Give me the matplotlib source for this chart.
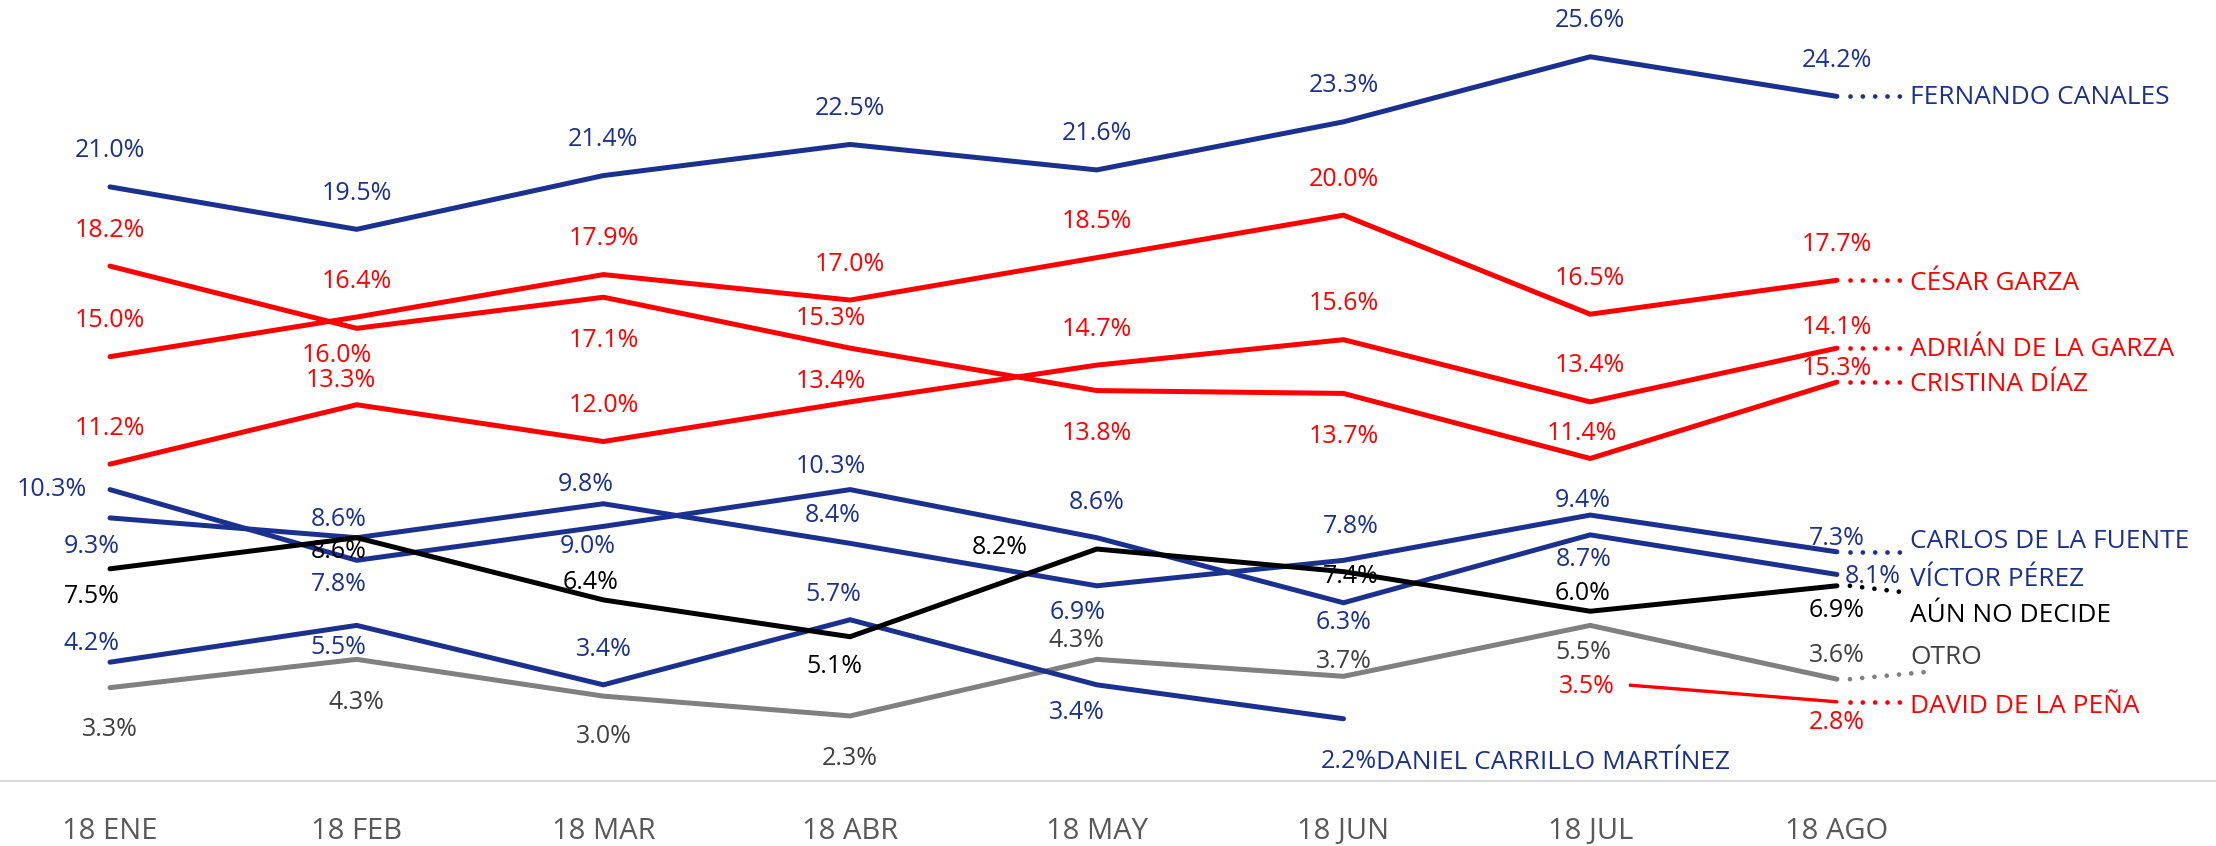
import numpy as np
import matplotlib.pyplot as plt

plt.rcParams['font.family'] = ['Open Sans', 'DejaVu Sans']

nan = np.nan
months = ['18 ENE', '18 FEB', '18 MAR', '18 ABR', '18 MAY', '18 JUN', '18 JUL', '18 AGO']

# poll values (%) per candidate
fernando = [21.0, 19.5, 21.4, 22.5, 21.6, 23.3, 25.6, 24.2]
cesar = [15.0, 16.4, 17.9, 17.0, 18.5, 20.0, 16.5, 17.7]
adrian = [11.2, 13.3, 12.0, 13.4, 14.7, 15.6, 13.4, 15.3]
cristina = [18.2, 16.0, 17.1, 15.3, 13.8, 13.7, 11.4, 14.1]
carlos = [9.3, 8.6, 9.8, 8.4, 6.9, 7.8, 9.4, 8.1]
victor = [10.3, 7.8, 9.0, 10.3, 8.6, 6.3, 8.7, 7.3]
no_decide = [7.5, 8.6, 6.4, 5.1, 8.2, 7.4, 6.0, 6.9]
otro = [3.3, 4.3, 3.0, 2.3, 4.3, 3.7, 5.5, 3.6]
daniel = [4.2, 5.5, 3.4, 5.7, 3.4, 2.2, nan, nan]
david = [nan, nan, nan, nan, nan, nan, 3.5, 2.8]

# last labels as printed in the original (swapped there)
shown_last = {'ADRIÁN DE LA GARZA': '14.1%', 'CRISTINA DÍAZ': '15.3%',
              'CARLOS DE LA FUENTE': '7.3%', 'VÍCTOR PÉREZ': '8.1%'}

BLUE = '#1b3190'
RED = '#ff0000'
GRAY = '#808080'
GRAY_TXT = '#404040'

series = [
    ('OTRO', otro, GRAY, GRAY_TXT, 3.6),
    ('DANIEL CARRILLO MARTÍNEZ', daniel, BLUE, BLUE, 3.6),
    ('DAVID DE LA PEÑA', david, RED, RED, 2.4),
    ('VÍCTOR PÉREZ', victor, BLUE, BLUE, 3.6),
    ('CARLOS DE LA FUENTE', carlos, BLUE, BLUE, 3.6),
    ('AÚN NO DECIDE', no_decide, 'black', 'black', 3.6),
    ('CRISTINA DÍAZ', cristina, RED, RED, 3.6),
    ('ADRIÁN DE LA GARZA', adrian, RED, RED, 3.6),
    ('CÉSAR GARZA', cesar, RED, RED, 3.6),
    ('FERNANDO CANALES', fernando, BLUE, BLUE, 3.6),
]

# data label offsets in pixels (dx, dy)
up = (0, 36)
offsets = {
    'FERNANDO CANALES': [up] * 8,
    'CÉSAR GARZA': [up] * 8,
    'ADRIÁN DE LA GARZA': [up, (-16, 24), up, (-19, 20), up, up, up, (0, 21)],
    'CRISTINA DÍAZ': [up, (-20, -27), (0, -43), (-19, 30), (0, -43), (0, -43), (-8, 25), (0, 14)],
    'CARLOS DE LA FUENTE': [(-18, -29), (-18, 18), (-18, 19), (-17, 28), (-19, -27), (7, 34), (-7, 15), (0, 13)],
    'VÍCTOR PÉREZ': [(-58, 0), (-18, -24), (-16, -20), (-19, 23), (0, 35), (0, -20), (-7, -25), (36, -2)],
    'AÚN NO DECIDE': [(-18, -28), (-18, -14), (-13, 17), (-16, -30), (-97, 2), (7, -5), (-8, 18), (0, -25)],
    'OTRO': [(0, -42), (0, -43), (0, -40), (0, -43), (-20, 19), (0, 15), (-7, -27), (0, 24)],
    'DANIEL CARRILLO MARTÍNEZ': [(-18, 19), (-18, -22), (0, 35), (-17, 25), (-20, -28), (5, -43), None, None],
    'DAVID DE LA PEÑA': [None] * 6 + [(-3, -5), (0, -21)],
}

# end name label offsets (pixels) and dotted connector (end dy px, length px)
name_off = {
    'FERNANDO CANALES': (73, -1), 'CÉSAR GARZA': (73, -3), 'ADRIÁN DE LA GARZA': (73, -1),
    'CRISTINA DÍAZ': (73, -2), 'CARLOS DE LA FUENTE': (73, 10), 'VÍCTOR PÉREZ': (73, -5),
    'AÚN NO DECIDE': (73, -30), 'OTRO': (73, 22), 'DAVID DE LA PEÑA': (73, -5),
    'DANIEL CARRILLO MARTÍNEZ': (33, -44),
}
dots = {
    'FERNANDO CANALES': (0, 63), 'CÉSAR GARZA': (0, 63), 'ADRIÁN DE LA GARZA': (0, 63),
    'CRISTINA DÍAZ': (0, 63), 'CARLOS DE LA FUENTE': (0, 63), 'AÚN NO DECIDE': (-6, 63),
    'OTRO': (8, 98), 'DAVID DE LA PEÑA': (0, 63),
}

W, H = 2216, 846
fig = plt.figure(figsize=(W / 100, H / 100), dpi=100)
ax = fig.add_axes([0, 65 / H, 1, 778 / H])
xstep = 246.7
ax.set_xlim(-110 / xstep, (W - 110) / xstep)
ax.set_ylim(0, 27.5)
ypx = 778 / 27.5

x = np.arange(len(months))
fs = 18

for name, vals, color, tcolor, lw in series:
    vals = np.array(vals, dtype=float)
    ax.plot(x, vals, color=color, lw=lw, solid_capstyle='round', solid_joinstyle='miter', zorder=2)
    for i, v in enumerate(vals):
        if np.isnan(v):
            continue
        txt = f'{v:.1f}%'
        if i == len(vals) - 1 and name in shown_last:
            txt = shown_last[name]
        dx, dy = offsets[name][i]
        bbox = None
        if name == 'DAVID DE LA PEÑA' and i == 6:
            bbox = dict(boxstyle='square,pad=0.55', fc='white', ec='none')
        ax.annotate(txt, (i, v), xytext=(dx, dy), textcoords='offset pixels',
                    ha='center', va='center', fontsize=fs, color=tcolor, zorder=4, bbox=bbox)
    last = np.where(~np.isnan(vals))[0][-1]
    vl = vals[last]
    if name in dots:
        dye, length = dots[name]
        ax.plot([last + 13 / xstep, last + length / xstep], [vl, vl + dye / ypx],
                color=color, lw=3.4, ls=(0, (0.01, 2.6)), dash_capstyle='round', zorder=3)
    ndx, ndy = name_off[name]
    ax.annotate(name, (last, vl), xytext=(ndx, ndy), textcoords='offset pixels',
                ha='left', va='center', fontsize=18.9, color=tcolor, zorder=4)

ax.set_xticks(x)
ax.set_xticklabels(months, fontsize=21, color='#595959')
ax.tick_params(axis='x', length=0, pad=26)
ax.set_yticks([])
for s in ['top', 'left', 'right']:
    ax.spines[s].set_visible(False)
ax.spines['bottom'].set_color('#d9d9d9')
ax.spines['bottom'].set_linewidth(1.5)

fig.savefig('out.png', dpi=100)
